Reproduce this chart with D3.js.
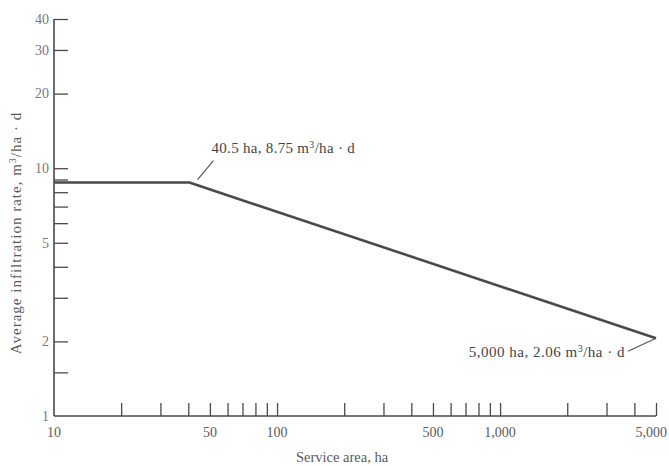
<!DOCTYPE html>
<html><head><meta charset="utf-8">
<script src="https://cdn.jsdelivr.net/npm/d3@7"></script>
<style>body{margin:0;background:#fff}text{font-family:"Liberation Serif","DejaVu Serif",serif}</style>
</head><body><svg id="c" width="669" height="466"></svg>
<script>
const serviceArea = [10, 40.5, 5000];
const infiltration = [8.75, 8.75, 2.06];
const xTickValues = [20,30,40,50,60,70,80,90,100,200,300,400,500,600,700,800,900,1000,2000,3000,4000,5000];
const xLabelValues = [10,50,100,500,1000,5000];
const xLabelTexts = ["10","50","100","500","1,000","5,000"];
const yTickValues = [1.5,2,3,4,5,6,7,8,9,10,20,30,40];
const yLabelValues = [1,2,5,10,20,30,40];
const yLabelTexts = ["1","2","5","10","20","30","40"];
const annotations = [
  {x: 40.5, y: 8.75, lines: ["40.5 ha, 8.75 m", "3", "/ha \u00b7 d"]},
  {x: 5000, y: 2.06, lines: ["5,000 ha, 2.06 m", "3", "/ha \u00b7 d"]}
];

const svg = d3.select("#c");
const x = d3.scaleLog().domain([10, 5000]).range([54, 656]);
const y = d3.scaleLog().domain([1, 40]).range([416, 19]);
const axisColor = "#4a4a4a", textColor = "#5a5a5a";

// X axis
const gx = svg.append("g").attr("transform", "translate(0,416)");
gx.call(d3.axisTop(x).tickValues(xTickValues).tickSize(13).tickFormat(""));
gx.select(".domain").attr("d", `M${x(10)},0H${x(5000)}`).attr("stroke", axisColor).attr("stroke-width", 1.6);
gx.selectAll(".tick line").attr("stroke", axisColor).attr("stroke-width", 1.3);
const last = xLabelValues.length - 1;
svg.append("g").selectAll("text").data(xLabelValues).join("text")
  .attr("x", (d,i) => i === last ? 667 : x(d)).attr("y", 437)
  .attr("text-anchor", (d,i) => i === last ? "end" : "middle")
  .attr("font-size", 14).attr("fill", textColor)
  .text((d,i) => xLabelTexts[i]);

// Y axis
const gy = svg.append("g").attr("transform", "translate(54,0)");
gy.call(d3.axisRight(y).tickValues(yTickValues).tickSize(14).tickFormat(""));
gy.select(".domain").attr("d", `M0,${y(40)}V${y(1)}`).attr("stroke", axisColor).attr("stroke-width", 1.6);
gy.selectAll(".tick line").attr("stroke", axisColor).attr("stroke-width", 1.3);
svg.append("g").selectAll("text").data(yLabelValues).join("text")
  .attr("x", 49).attr("y", d => y(d)).attr("dy", "0.35em").attr("text-anchor", "end")
  .attr("font-size", 14).attr("fill", "#777")
  .text((d,i) => yLabelTexts[i]);

// Axis titles
svg.append("text").attr("x", 342).attr("y", 462).attr("text-anchor", "middle")
  .attr("font-size", 14.5).attr("fill", textColor).text("Service area, ha");
const yt = svg.append("text").attr("transform", "translate(21,233) rotate(-90)")
  .attr("text-anchor", "middle").attr("font-size", 15).attr("letter-spacing", 1).attr("fill", textColor);
yt.append("tspan").text("Average infiltration rate, m");
yt.append("tspan").attr("dy", -5).attr("font-size", 10).text("3");
yt.append("tspan").attr("dy", 5).text("/ha \u00b7 d");

// Data line
const pts = serviceArea.map((d,i) => [d, infiltration[i]]);
svg.append("path").datum(pts)
  .attr("d", d3.line().x(d => x(d[0])).y(d => y(d[1])))
  .attr("fill", "none").attr("stroke", "#4a4a4a").attr("stroke-width", 2.6).attr("stroke-linejoin", "round");

// Annotations
const a0 = annotations[0];
svg.append("line").attr("x1", x(a0.x) + 8).attr("y1", y(a0.y) - 3).attr("x2", x(a0.x) + 24).attr("y2", y(a0.y) - 22)
  .attr("stroke", "#555").attr("stroke-width", 1.2);
const t0 = svg.append("text").attr("x", x(a0.x) + 22).attr("y", y(a0.y) - 30)
  .attr("font-size", 15).attr("letter-spacing", 0.3).attr("fill", "#444");
t0.append("tspan").text(a0.lines[0]);
t0.append("tspan").attr("dy", -5).attr("font-size", 10).text(a0.lines[1]);
t0.append("tspan").attr("dy", 5).text(a0.lines[2]);

const a1 = annotations[1];
svg.append("line").attr("x1", x(a1.x)).attr("y1", y(a1.y)).attr("x2", x(a1.x) - 28).attr("y2", y(a1.y) + 13)
  .attr("stroke", "#555").attr("stroke-width", 1.2);
const t1 = svg.append("text").attr("x", x(a1.x) - 31).attr("y", y(a1.y) + 19).attr("text-anchor", "end")
  .attr("font-size", 15).attr("letter-spacing", 0.5).attr("fill", "#444");
t1.append("tspan").text(a1.lines[0]);
t1.append("tspan").attr("dy", -5).attr("font-size", 10).text(a1.lines[1]);
t1.append("tspan").attr("dy", 5).text(a1.lines[2]);
</script></body></html>
